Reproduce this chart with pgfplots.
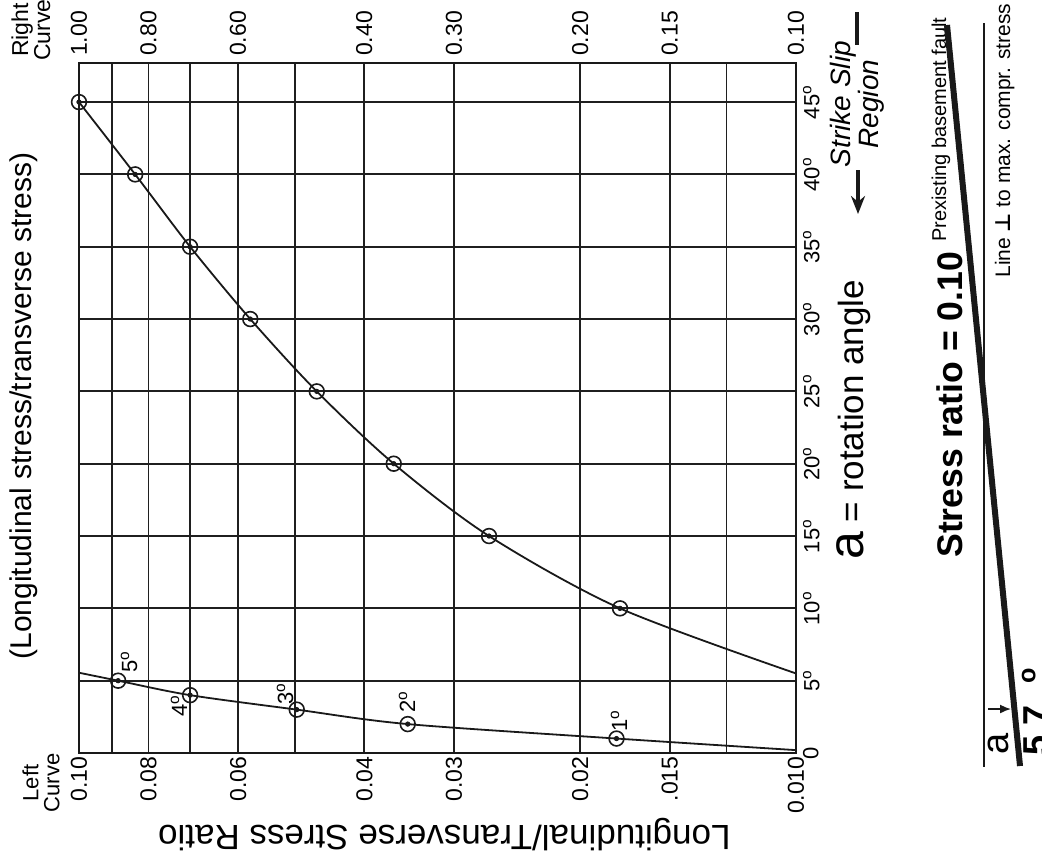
\documentclass[border=0pt]{standalone}
\usepackage{fontspec}
\setmainfont{Liberation Sans}
\newfontfamily\dejavu{DejaVu Sans}
\usepackage{pgfplots}
\pgfplotsset{compat=1.18}
\usetikzlibrary{arrows.meta}
\newcommand{\dg}{\textsuperscript{o}}
\newcommand{\fs}[1]{\fontsize{#1}{#1}\selectfont}

\pgfplotsset{
  every axis/.append style={
    at={(39.5pt,-376.5pt)}, anchor=south west,
    scale only axis, width=358.5pt, height=345pt,
    xmode=log, x dir=reverse,
    ymin=0, ymax=47.7,
    axis line style={line width=1.4pt, black!90},
    major tick length=0pt,
    clip=false,
  },
  lcurve/.style={line width=0.9pt, black!90, smooth, mark=none},
  lrings/.style={only marks, mark=o, mark size=3.7pt, mark options={line width=0.8pt, black!90}},
  ldots/.style={only marks, mark=*, mark size=1.1pt, black!90},
}

\begin{document}
\begin{tikzpicture}

% left curve, ratio 0.010 - 0.10 (bottom scale)
\begin{axis}[
  xmin=0.01, xmax=0.1,
  xtick={0.1,0.09,0.08,0.07,0.06,0.05,0.04,0.03,0.02,0.015,0.0125,0.01},
  xticklabels={0.10,,0.08,,0.06,,0.04,0.03,0.02,.015,,0.010},
  ytick={0,5,...,45},
  yticklabels={0,5\dg,10\dg,15\dg,20\dg,25\dg,30\dg,35\dg,40\dg,45\dg},
  yticklabel pos=right,
  grid=major, major grid style={line width=0.9pt, black!88},
  xticklabel style={rotate=90, anchor=east, inner sep=1.5pt, font=\fs{11.5}},
  yticklabel style={rotate=90, anchor=north, font=\fs{11}},
]
\addplot[lcurve] coordinates {(0.0100,0.2) (0.0178,1) (0.0348,2) (0.0497,3) (0.0700,4) (0.0882,5) (0.100,5.55)};
\addplot[lrings] coordinates {(0.0178,1) (0.0348,2) (0.0497,3) (0.0700,4) (0.0882,5)};
\addplot[ldots] coordinates {(0.0178,1) (0.0348,2) (0.0497,3) (0.0700,4) (0.0882,5)};
\end{axis}

% right curve, ratio 0.10 - 1.00 (top scale)
\begin{axis}[
  xmin=0.1, xmax=1,
  xtick={1,0.8,0.6,0.4,0.3,0.2,0.15,0.1},
  xticklabels={1.00,0.80,0.60,0.40,0.30,0.20,0.15,0.10},
  xticklabel pos=upper,
  ytick=\empty,
  xticklabel style={rotate=90, anchor=west, font=\fs{11.5}},
]
\addplot[lcurve] coordinates {(0.100,5.5) (0.176,10) (0.268,15) (0.364,20) (0.466,25) (0.577,30) (0.700,35) (0.835,40) (1.000,45)};
\addplot[lrings] coordinates {(0.176,10) (0.268,15) (0.364,20) (0.466,25) (0.577,30) (0.700,35) (0.835,40) (1.000,45)};
\addplot[ldots] coordinates {(0.176,10) (0.268,15) (0.364,20) (0.466,25) (0.577,30) (0.700,35) (0.835,40) (1.000,45)};
\end{axis}

% annotations, in pixel units of the reference (y downwards)
\begin{scope}[x=0.5pt, y=-0.5pt, every node/.style={inner sep=0pt}]
  \node[rotate=90, anchor=base west, font=\fs{11}] at (137,673) {5\dg};
  \node[rotate=90, anchor=base west, font=\fs{11}] at (187,717) {4\dg};
  \node[rotate=90, anchor=base west, font=\fs{11}] at (293,705) {3\dg};
  \node[rotate=90, anchor=base west, font=\fs{11}] at (415,713) {2\dg};
  \node[rotate=90, anchor=base west, font=\fs{11}] at (627,732) {1\dg};

  \node[rotate=90, align=center, font=\fontsize{11.5}{11}\selectfont] at (31,30) {Right\\Curve};
  \node[rotate=90, align=center, font=\fontsize{11}{10.5}\selectfont] at (41,783) {Left\\Curve};

  \node[rotate=90, anchor=base west, font=\fs{15}] at (31,660) {(Longitudinal stress/transverse stress)};
  \node[rotate=180, anchor=base west, font=\fs{17.5}] at (731,825) {Longitudinal/Transverse Stress Ratio};

  \node[rotate=90, anchor=base west] at (863,560) {{\fs{25}a}{\fs{17.5} = rotation angle}};
  \node[rotate=90, align=center, font=\fontsize{14}{12.5}\selectfont\itshape] at (857,104) {Strike Slip\\Region};
  \draw[line width=2.2pt, black!90] (857,12) -- (857,45);
  \draw[line width=1.6pt, black!90, -{Stealth[length=9pt,width=7pt]}] (858,170) -- (858,214);

  \node[rotate=90, anchor=base west] at (962,558)
    {{\fs{17.8}\bfseries Stress ratio = 0.10 }\raisebox{8pt}{\fs{10}Prexisting basement fault}};
  \node[rotate=90, anchor=base west, font=\fs{10.5}] at (1010,278)
    {Line {\dejavu\bfseries ⊥} to max. compr. stress};
  \draw[line width=1.1pt, black!90] (984,23) -- (984,767);
  \draw[line width=3pt, black!90] (947,25) -- (1020,766);
  \node[rotate=90, anchor=base west, font=\fs{19}] at (1008,755) {a};
  \draw[line width=0.8pt, black!90, -{Latex[length=5.5pt,width=4.5pt]}] (988,709) -- (1011,709);
  \node[rotate=90, anchor=base west, font=\fs{18}\bfseries] at (1048,756) {5.7\hspace{0.6em}\dg};

  \pgfresetboundingbox
  \useasboundingbox (0,0) rectangle (1042,863);
\end{scope}
\end{tikzpicture}
\end{document}
